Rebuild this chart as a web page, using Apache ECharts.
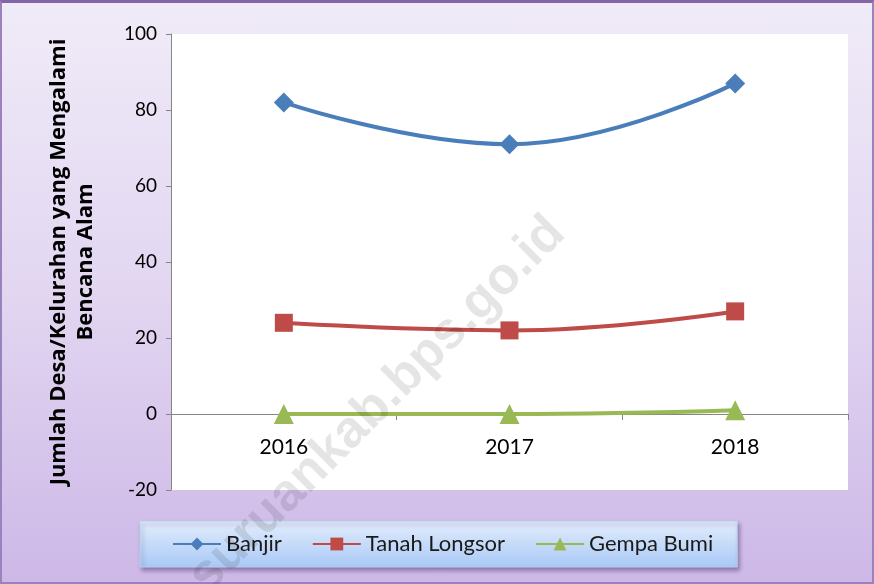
<!DOCTYPE html>
<html>
<head>
<meta charset="utf-8">
<script src="https://cdn.jsdelivr.net/npm/echarts@6/dist/echarts.min.js"></script>
<style>
  html, body { margin: 0; padding: 0; }
  #wrap {
    width: 874px; height: 584px; box-sizing: border-box;
    border: 2px solid #9a82bd; border-top: 3px solid #8366a8;
    background: linear-gradient(to bottom, #f0ebf8 0%, #e2d6f1 50%, #cdb8e7 100%);
  }
  #chart { width: 874px; height: 584px; position: absolute; left: 0; top: 0; }
</style>
</head>
<body>
<div id="wrap"></div>
<div id="chart"></div>
<script>
// data
var years = ["2016", "2017", "2018"];
var banjir = [82, 71, 87];
var tanahLongsor = [24, 22, 27];
var gempaBumi = [0, 0, 1];
var yTicks = { min: -20, max: 100, step: 20 };

var myChart = echarts.init(document.getElementById("chart"));
var font = "Lato, 'Open Sans', sans-serif";

// the x axis sits on the zero line: move it up by the -20..0 band
var zeroOffset = -(456 * (0 - yTicks.min) / (yTicks.max - yTicks.min));

var option = {
  backgroundColor: "transparent",
  grid: {
    left: 171, top: 34, right: 26, bottom: 94,
    show: true, backgroundColor: "#ffffff", borderWidth: 0
  },
  legend: {
    data: ["Banjir", "Tanah Longsor", "Gempa Bumi"],
    left: 140, top: 521,
    padding: [12, 24, 12, 32],
    itemWidth: 48, itemHeight: 16, itemGap: 30,
    backgroundColor: {
      type: "linear", x: 0, y: 0, x2: 0, y2: 1,
      colorStops: [{ offset: 0, color: "#e3edfc" }, { offset: 1, color: "#a9c9f6" }]
    },
    borderColor: "#b9cff0", borderWidth: 1,
    shadowColor: "rgba(60,40,90,0.45)", shadowBlur: 4, shadowOffsetX: 2, shadowOffsetY: 3,
    textStyle: { fontFamily: font, fontSize: 22, color: "#1a1a1a", padding: [0, 0, 0, 0] }
  },
  xAxis: {
    type: "category",
    data: years,
    boundaryGap: true,
    offset: zeroOffset,
    axisLine: { onZero: false, lineStyle: { color: "#868686", width: 1 } },
    axisTick: { show: true, interval: 0, length: 6, lineStyle: { color: "#868686" } },
    axisLabel: { fontFamily: font, fontSize: 21, color: "#000", margin: 23 }
  },
  yAxis: {
    type: "value",
    min: yTicks.min, max: yTicks.max, interval: yTicks.step,
    name: "Jumlah Desa/Kelurahan yang Mengalami\nBencana Alam",
    nameLocation: "middle",
    nameGap: 72,
    nameTextStyle: { fontFamily: "'Open Sans', sans-serif", fontSize: 22, fontWeight: "bold", color: "#000", lineHeight: 27 },
    axisLine: { show: true, lineStyle: { color: "#868686" } },
    axisTick: { show: true, length: 5, lineStyle: { color: "#868686" } },
    splitLine: { show: false },
    axisLabel: { fontFamily: font, fontSize: 19, color: "#000", margin: 14 }
  },
  graphic: [{
    type: "text",
    x: 216, y: 603,
    rotation: Math.PI / 4,
    style: {
      text: "suruankab.bps.go.id",
      font: "bold 52px 'Liberation Sans', sans-serif",
      fill: "rgba(0,0,0,0.1)",
      verticalAlign: "bottom"
    },
    z: 100
  }],
  series: [
    {
      name: "Banjir", type: "line", data: banjir, smooth: 0.45,
      symbol: "diamond", symbolSize: 20,
      itemStyle: { color: "#4a7ebb" }, lineStyle: { width: 4, color: "#4a7ebb" }
    },
    {
      name: "Tanah Longsor", type: "line", data: tanahLongsor, smooth: 0.45,
      symbol: "rect", symbolSize: 18,
      itemStyle: { color: "#be4b48" }, lineStyle: { width: 4, color: "#be4b48" }
    },
    {
      name: "Gempa Bumi", type: "line", data: gempaBumi, smooth: 0.45,
      symbol: "triangle", symbolSize: 20,
      itemStyle: { color: "#98b954" }, lineStyle: { width: 4, color: "#98b954" }
    }
  ]
};

myChart.setOption(option);
</script>
</body>
</html>
